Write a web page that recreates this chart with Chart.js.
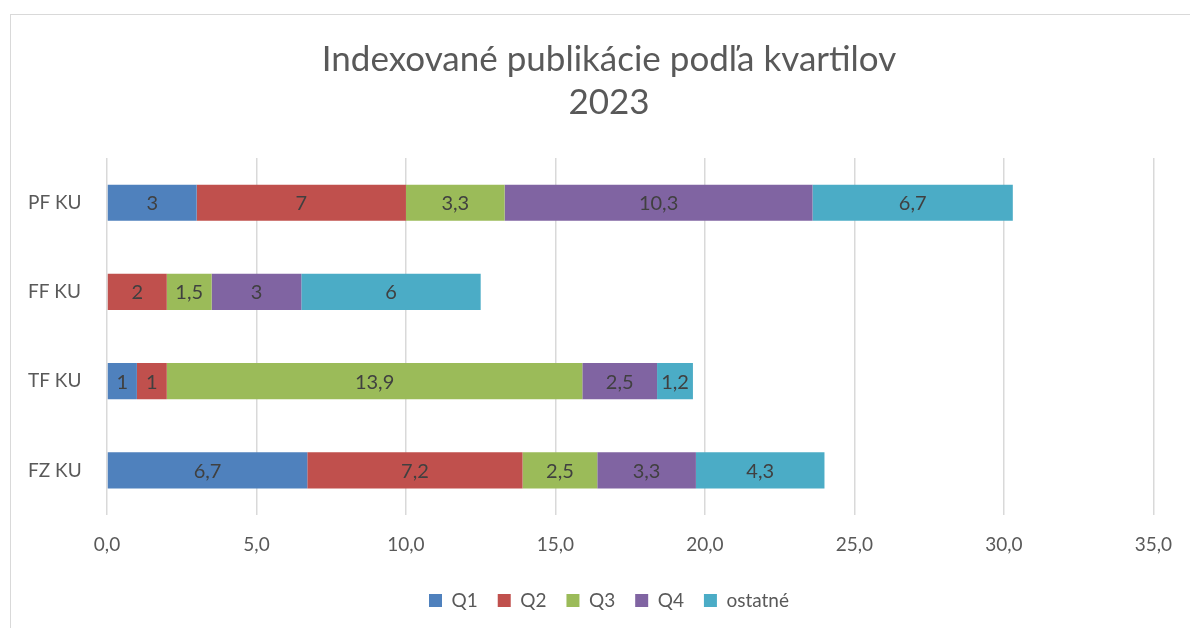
<!DOCTYPE html>
<html>
<head>
<meta charset="utf-8">
<script src="https://cdn.jsdelivr.net/npm/chart.js@4"></script>
<style>
  body { margin: 0; background: #fff; overflow: hidden; }
  #frame { position: absolute; left: 10px; top: 14px; width: 1300px; height: 700px; border: 1px solid #d9d9d9; }
  #wrap { position: absolute; left: 0; top: 0; width: 1190px; height: 628px; }
</style>
</head>
<body>
<div id="frame"></div>
<div id="wrap"><canvas id="myChart" width="1190" height="628"></canvas></div>
<script>
'use strict'

// kategórie a hodnoty (čítané z grafu)
const kategorie = ['PF KU', 'FF KU', 'TF KU', 'FZ KU'];
const q1 = [3, null, 1, 6.7];
const q2 = [7, 2, 1, 7.2];
const q3 = [3.3, 1.5, 13.9, 2.5];
const q4 = [10.3, 3, 2.5, 3.3];
const ostatne = [6.7, 6, 1.2, 4.3];
const nazvySerii = ['Q1', 'Q2', 'Q3', 'Q4', 'ostatné'];
const farby = ['#4f81bd', '#c0504d', '#9bbb59', '#8064a2', '#4bacc6'];
const osX = { min: 0, max: 35, krok: 5 };

const ciarka = v => String(v).replace('.', ',');

// popisky hodnot v strede segmentov
const popisky = {
  id: 'popisky',
  afterDatasetsDraw(chart) {
    const ctx = chart.ctx;
    ctx.save();
    ctx.font = '20px Lato';
    ctx.fillStyle = '#404040';
    ctx.textAlign = 'center';
    ctx.textBaseline = 'middle';
    chart.data.datasets.forEach((ds, i) => {
      const meta = chart.getDatasetMeta(i);
      meta.data.forEach((bar, j) => {
        const v = ds.data[j];
        if (v === null || v === undefined) return;
        const x = (bar.x + bar.base) / 2;
        ctx.fillText(ciarka(v), x, bar.y + 1);
      });
    });
    ctx.restore();
  }
};

const serie = [q1, q2, q3, q4, ostatne];

new Chart(document.getElementById('myChart'), {
  type: 'bar',
  data: {
    labels: kategorie,
    datasets: serie.map((d, i) => ({
      label: nazvySerii[i],
      data: d,
      backgroundColor: farby[i],
      borderWidth: 0,
      categoryPercentage: 1,
      barPercentage: 0.405
    }))
  },
  plugins: [popisky],
  options: {
    indexAxis: 'y',
    responsive: false,
    animation: false,
    layout: { padding: { left: 60, right: 32, top: 0, bottom: 8 } },
    scales: {
      x: {
        stacked: true,
        min: osX.min,
        max: osX.max,
        border: { display: false },
        grid: { color: '#d9d9d9', lineWidth: 1.5, drawTicks: false },
        ticks: {
          stepSize: osX.krok,
          padding: 18,
          color: '#595959',
          font: { family: 'Lato', size: 19 },
          callback: v => v.toFixed(1).replace('.', ',')
        },
        afterFit: s => { s.height = 56; }
      },
      y: {
        stacked: true,
        border: { display: false },
        grid: { display: false },
        ticks: {
          mirror: true,
          color: '#595959',
          padding: -79,
          font: { family: 'Lato', size: 19 }
        },
        afterFit: s => { s.width = 47; }
      }
    },
    plugins: {
      title: {
        display: true,
        text: ['Indexované publikácie podľa kvartilov', '2023'],
        color: '#595959',
        font: { family: 'Lato', size: 35, weight: 'normal', lineHeight: 1.23 },
        padding: { top: 38, bottom: 34 }
      },
      legend: {
        position: 'bottom',
        labels: {
          color: '#595959',
          font: { family: 'Lato', size: 19 },
          boxWidth: 13,
          boxHeight: 13,
          padding: 20
        }
      },
      tooltip: { enabled: false }
    }
  }
});
</script>
</body>
</html>
